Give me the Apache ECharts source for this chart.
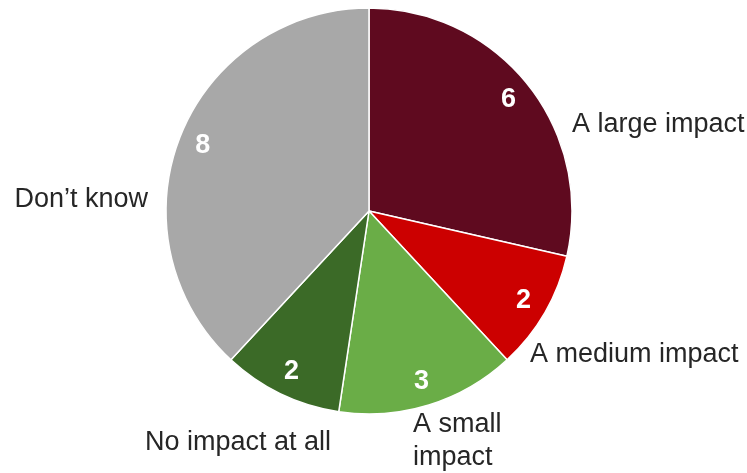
<!DOCTYPE html>
<html>
<head>
<meta charset="utf-8">
<script src="https://cdn.jsdelivr.net/npm/echarts@6/dist/echarts.min.js"></script>
<style>
html,body{margin:0;padding:0;background:#fff;}
#chart{width:747px;height:473px;}
</style>
</head>
<body>
<div id="chart"></div>
<script>
var categories = ["A large impact", "A medium impact", "A small\nimpact", "No impact at all", "Don\u2019t know"];
var values = [6, 2, 3, 2, 8];

var sliceColors = ["#5f0a1f", "#cc0000", "#6aad47", "#3b6a27", "#a8a8a8"];
var nameLabelPos = [
  {x: 572, y: 125, align: "left"},
  {x: 530, y: 355, align: "left"},
  {x: 413, y: 441, align: "left"},
  {x: 145, y: 443, align: "left"},
  {x: 148, y: 200, align: "right"}
];

var chart = echarts.init(document.getElementById("chart"), null, {renderer: "canvas"});
var mainData = categories.map(function (c, i) {
  return {name: c, value: values[i], itemStyle: {color: sliceColors[i]}};
});
var valueData = categories.map(function (c, i) {
  return {name: c, value: values[i]};
});

chart.setOption({
  animation: false,
  backgroundColor: "#ffffff",
  series: [
    {
      type: "pie",
      center: [369, 211],
      radius: [0, 203],
      startAngle: 90,
      clockwise: true,
      silent: true,
      data: mainData,
      itemStyle: {borderColor: "#ffffff", borderWidth: 1.5},
      label: {show: false}
    },
    {
      type: "pie",
      center: [369, 211],
      radius: [148, 203],
      startAngle: 90,
      clockwise: true,
      silent: true,
      data: valueData,
      itemStyle: {color: "rgba(0,0,0,0)", borderWidth: 0},
      label: {
        show: true,
        position: "inside",
        formatter: "{c}",
        color: "#ffffff",
        fontFamily: "Liberation Sans, Arial, sans-serif",
        fontWeight: "bold",
        fontSize: 27
      },
      labelLine: {show: false}
    },
    {
      type: "pie",
      center: [369, 211],
      radius: [0, 203],
      startAngle: 90,
      clockwise: true,
      silent: true,
      data: valueData,
      itemStyle: {color: "rgba(0,0,0,0)", borderWidth: 0},
      label: {
        show: true,
        position: "inside",
        overflow: "none",
        formatter: "{b}",
        color: "#262626",
        fontFamily: "Liberation Sans, Arial, sans-serif",
        fontSize: 27,
        lineHeight: 33
      },
      labelLine: {show: false},
      labelLayout: function (p) {
        var pos = nameLabelPos[p.dataIndex];
        return {x: pos.x, y: pos.y, align: pos.align, verticalAlign: "middle"};
      }
    }
  ]
});
</script>
</body>
</html>
